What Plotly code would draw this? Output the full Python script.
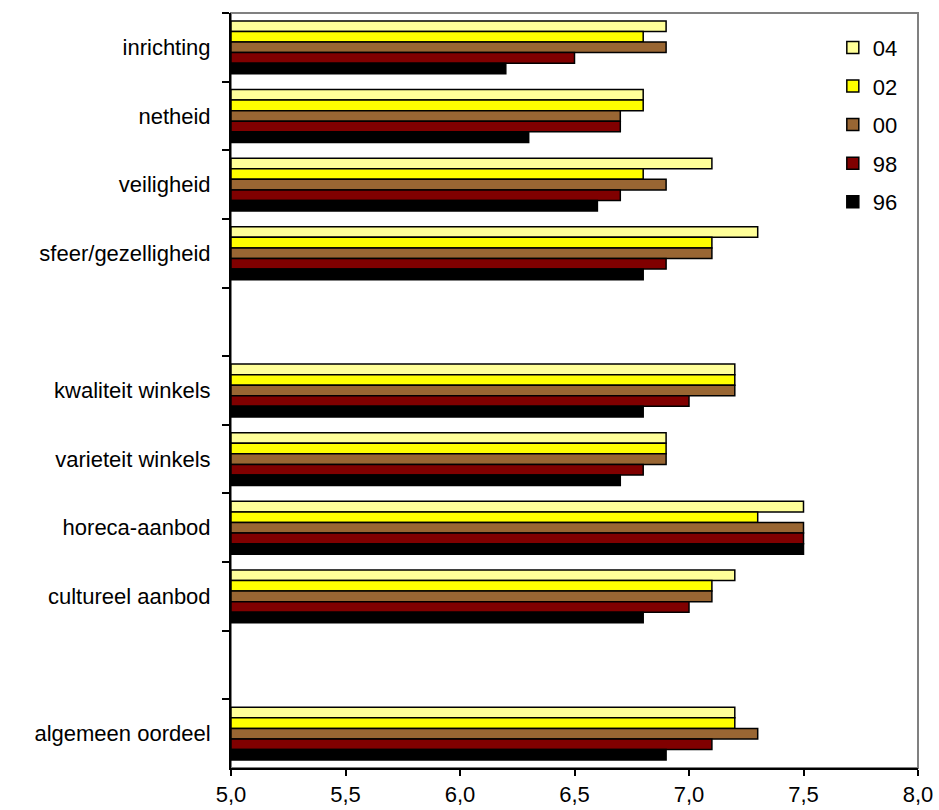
import plotly.graph_objects as go

# Rows of the chart, top to bottom; blank names leave an empty slot between blocks
categories = [
    "inrichting", "netheid", "veiligheid", "sfeer/gezelligheid", " ",
    "kwaliteit winkels", "varieteit winkels", "horeca-aanbod", "cultureel aanbod", "  ",
    "algemeen oordeel",
]

years = ["04", "02", "00", "98", "96"]

scores_04 = [6.9, 6.8, 7.1, 7.3, None, 7.2, 6.9, 7.5, 7.2, None, 7.2]
scores_02 = [6.8, 6.8, 6.8, 7.1, None, 7.2, 6.9, 7.3, 7.1, None, 7.2]
scores_00 = [6.9, 6.7, 6.9, 7.1, None, 7.2, 6.9, 7.5, 7.1, None, 7.3]
scores_98 = [6.5, 6.7, 6.7, 6.9, None, 7.0, 6.8, 7.5, 7.0, None, 7.1]
scores_96 = [6.2, 6.3, 6.6, 6.8, None, 6.8, 6.7, 7.5, 6.8, None, 6.9]

colors = ["#FFFF99", "#FFFF00", "#996633", "#800000", "#000000"]

x_ticks = [5.0, 5.5, 6.0, 6.5, 7.0, 7.5, 8.0]

FONT = "Liberation Sans, Arial, sans-serif"
FS = 22

fig = go.Figure()
for name, vals, col in zip(years, [scores_04, scores_02, scores_00, scores_98, scores_96], colors):
    fig.add_trace(go.Bar(
        y=categories,
        x=[v - 5.0 if v is not None else None for v in vals],
        base=5.0,
        orientation="h",
        name=name,
        legendgroup=name,
        marker=dict(color=col, line=dict(color="#000000", width=1.5)),
    ))

# Plot-area frame: grey on top and right, axis lines drawn black on top of it
fig.add_shape(type="rect", xref="paper", yref="paper", x0=0, x1=1, y0=0, y1=1,
              line=dict(color="#808080", width=2), layer="below")

fig.update_layout(
    width=939, height=810,
    margin=dict(l=231, r=21, t=13, b=42, autoexpand=False),
    paper_bgcolor="white", plot_bgcolor="white",
    barmode="group", bargap=0.23, bargroupgap=0,
    separators=", ",
    font=dict(family=FONT, size=FS, color="#000000"),
    showlegend=True,
    legend=dict(
        x=0.876, y=0.982, xanchor="left", yanchor="top",
        traceorder="grouped", tracegroupgap=7,
        font=dict(family=FONT, size=FS, color="#000000"),
        bgcolor="rgba(0,0,0,0)", itemwidth=30,
    ),
    xaxis=dict(
        range=[5.0, 8.0], tickvals=x_ticks, tickformat=".1f",
        showgrid=False, zeroline=False, automargin=False,
        showline=True, linecolor="#000000", linewidth=2,
        ticks="outside", ticklen=6, tickcolor="#000000", tickwidth=1.5,
        tickfont=dict(family=FONT, size=FS),
    ),
    yaxis=dict(
        type="category", categoryorder="array", categoryarray=categories,
        autorange="reversed", automargin=False,
        showgrid=False, zeroline=False,
        showline=True, linecolor="#000000", linewidth=2,
        ticks="outside", tickson="boundaries", ticklen=7, tickcolor="#000000", tickwidth=1.5,
        ticklabelstandoff=14,
        tickfont=dict(family=FONT, size=FS),
    ),
)

fig.write_html("out.html")
